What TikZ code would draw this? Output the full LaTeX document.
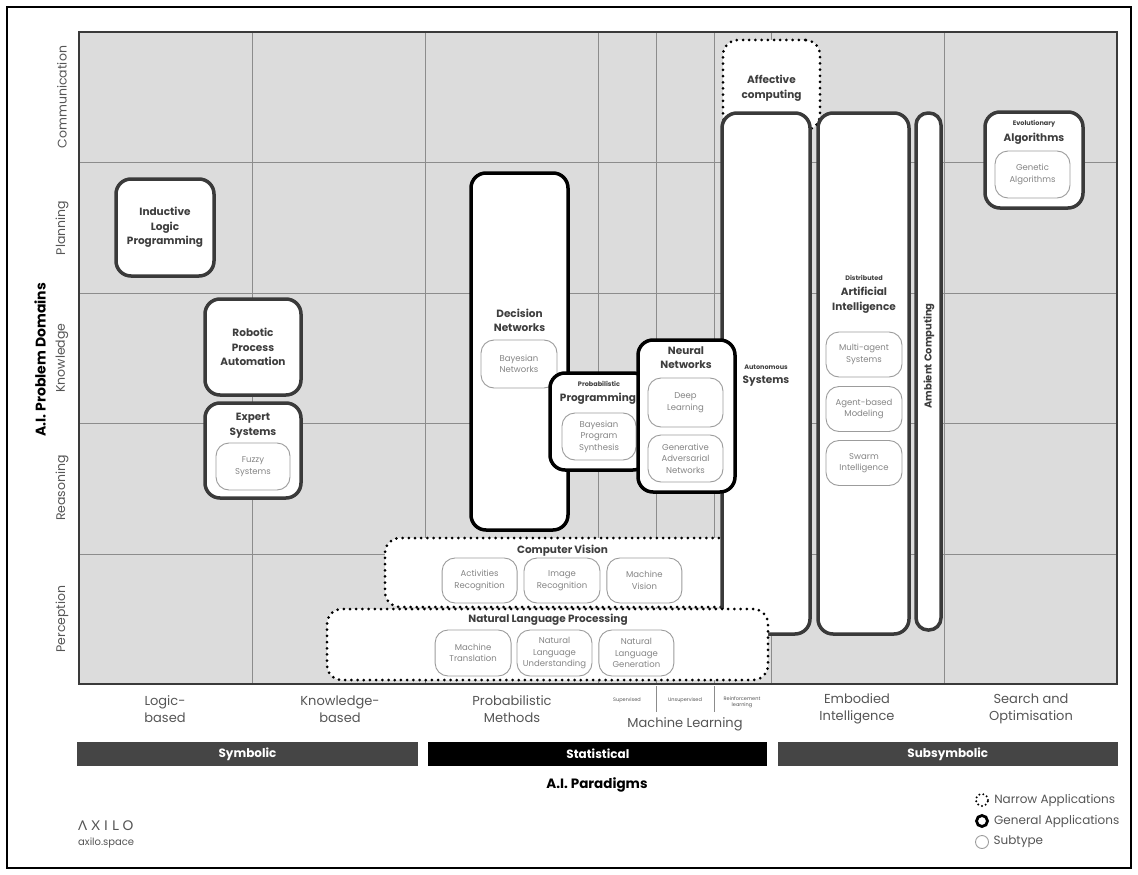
\documentclass[tikz,border=0pt]{standalone}
\usepackage{fontspec}
\setmainfont{Poppins}
\newfontfamily\logoFont[LetterSpace=30]{Lato}
\usepackage{tikz}
\usetikzlibrary{positioning}

\definecolor{gridFill}{HTML}{DCDCDC}
\definecolor{gridLine}{HTML}{8C8C8C}
\definecolor{boxLine}{HTML}{3A3A3A}
\definecolor{titleText}{HTML}{3E3E3E}
\definecolor{subText}{HTML}{858585}
\definecolor{subLine}{HTML}{9C9C9C}
\definecolor{labelText}{HTML}{555555}
\definecolor{barGray}{HTML}{454545}

\tikzstyle{aGeneral} = [rectangle, rounded corners=15pt, draw=boxLine, line width=3.5pt, fill=white]
\tikzstyle{aGeneralDark} = [aGeneral, draw=black]
\tikzstyle{aNarrow} = [rectangle, rounded corners=15pt, draw=black, line width=3pt, dash pattern=on 0pt off 6.2pt, line cap=round, fill=white]
\tikzstyle{aSubtype} = [rectangle, rounded corners=13pt, draw=subLine, line width=0.9pt, fill=white, text=subText, align=center, inner sep=1pt, font=\fontsize{8.5}{11.5}\selectfont]
\tikzstyle{aTitle} = [text=titleText, align=center, font=\bfseries\fontsize{10.5}{14.5}\selectfont]
\tikzstyle{aSmall} = [text=titleText, inner sep=0pt, font=\bfseries\fontsize{6.5}{8}\selectfont]
\tikzstyle{aParadigm} = [text=labelText, align=center, font=\fontsize{13}{17}\selectfont]
\tikzstyle{aMlSub} = [text=labelText, align=center, font=\fontsize{5}{6}\selectfont]
\tikzstyle{aDomain} = [text=labelText, rotate=90, font=\fontsize{12.5}{15}\selectfont]
\tikzstyle{aBar} = [rectangle, fill=barGray, text=white, minimum height=24pt, font=\bfseries\fontsize{12}{14}\selectfont]
\tikzstyle{aLegend} = [text=labelText, inner sep=0pt, font=\fontsize{12}{14}\selectfont]

\begin{document}
\begin{tikzpicture}[x=1pt, y=-1pt]
    \useasboundingbox (0,0) rectangle (1138,875);
    \draw[line width=2pt] (7,7) rectangle (1131,868);

    % grid
    \fill[gridFill] (79,32) rectangle (1117,684);
    \foreach \x in {252,425,598,656,714,771,944}
        \draw[gridLine, line width=0.9pt] (\x,32) -- (\x,684);
    \foreach \y in {162.5,293,423.5,554}
        \draw[gridLine, line width=0.9pt] (79,\y) -- (1117,\y);
    \draw[boxLine, line width=1.6pt] (79,32) rectangle (1117,684);

    % problem domains
    \node (domainAxis) [rotate=90, text=black, font=\bfseries\fontsize{14}{16}\selectfont] at (40,360) {A.I. Problem Domains};
    \node (rowComm) [aDomain] at (62,97) {Communication};
    \node (rowPlan) [aDomain] at (62,228) {Planning};
    \node (rowKnow) [aDomain] at (62,358) {Knowledge};
    \node (rowReason) [aDomain] at (62,488) {Reasoning};
    \node (rowPercep) [aDomain] at (62,619) {Perception};

    % symbolic
    \node (ilp) [aGeneral, aTitle, minimum width=98pt, minimum height=97pt] at (165,227.5) {Inductive\\Logic\\Programming};
    \node (rpa) [aGeneral, aTitle, minimum width=96pt, minimum height=96pt] at (253,347) {Robotic\\Process\\Automation};
    \node (expertSys) [aGeneral, minimum width=96pt, minimum height=95pt] at (253,450.5) {};
    \node (esTitle) [aTitle] at (253,425.5) {Expert\\Systems};
    \node (fuzzySys) [aSubtype, minimum width=74pt, minimum height=47pt] at (253,466.5) {Fuzzy\\Systems};

    % narrow applications behind
    \node (affective) [aNarrow, minimum width=97pt, minimum height=90pt] at (771.5,85) {};
    \node (acTitle) [aTitle] at (771.5,88) {Affective\\computing};
    \node (compVision) [aNarrow, minimum width=355pt, minimum height=69pt] at (562.5,572.5) {};
    \node (cvTitle) [aTitle] at (562.5,551) {Computer Vision};
    \node (imageRec) [aSubtype, minimum width=76pt, minimum height=45pt] at (562,580.5) {Image\\Recognition};
    \node (activityRec) [aSubtype, minimum width=75pt, minimum height=45pt, left=6pt of imageRec] {Activities\\Recognition};
    \node (machineVis) [aSubtype, minimum width=75pt, minimum height=45pt, right=6pt of imageRec] {Machine\\Vision};

    % subsymbolic
    \node (autoSys) [aGeneral, minimum width=88pt, minimum height=521pt] at (766,373.5) {};
    \node (asSmall) [aSmall] at (766,367) {Autonomous};
    \node (asTitle) [aTitle] at (766,381) {Systems};
    \node (distAI) [aGeneral, minimum width=91pt, minimum height=521pt] at (863.5,373.5) {};
    \node (daSmall) [aSmall] at (864,278) {Distributed};
    \node (daTitle) [aTitle] at (864,300) {Artificial\\Intelligence};
    \node (multiAgent) [aSubtype, minimum width=76pt, minimum height=45pt] at (864,354.5) {Multi-agent\\Systems};
    \node (agentBased) [aSubtype, minimum width=76pt, minimum height=45pt, below of=multiAgent, node distance=54.5pt] {Agent-based\\Modeling};
    \node (swarmInt) [aSubtype, minimum width=76pt, minimum height=45pt, below of=agentBased, node distance=54pt] {Swarm\\Intelligence};
    \node (ambient) [aGeneral, rounded corners=12pt, minimum width=25pt, minimum height=517pt] at (928.5,371.5) {};
    \node (ambTitle) [aTitle, rotate=90, font=\bfseries\fontsize{10}{12}\selectfont] at (929,356) {Ambient Computing};
    \node (evoAlg) [aGeneral, minimum width=98pt, minimum height=96pt] at (1034,160) {};
    \node (eaSmall) [aSmall] at (1034,124) {Evolutionary};
    \node (eaTitle) [aTitle] at (1034,138.5) {Algorithms};
    \node (geneticAlg) [aSubtype, minimum width=75pt, minimum height=47pt] at (1032.5,174.5) {Genetic\\Algorithms};

    % statistical
    \node (decisionNet) [aGeneralDark, minimum width=97pt, minimum height=357pt] at (519.5,351.5) {};
    \node (dnTitle) [aTitle] at (519.5,320.5) {Decision\\Networks};
    \node (bayesNet) [aSubtype, minimum width=76pt, minimum height=48pt] at (519,364) {Bayesian\\Networks};
    \node (probProg) [aGeneralDark, minimum width=98pt, minimum height=97pt] at (599,421.5) {};
    \node (ppSmall) [aSmall] at (599,384) {Probabilistic};
    \node (ppTitle) [aTitle] at (598,399) {Programming};
    \node (bayesProg) [aSubtype, minimum width=74pt, minimum height=47pt] at (599,436.5) {Bayesian\\Program\\Synthesis};
    \node (neuralNet) [aGeneralDark, minimum width=97pt, minimum height=152pt] at (686.5,416) {};
    \node (nnTitle) [aTitle] at (686,357.5) {Neural\\Networks};
    \node (deepLearn) [aSubtype, minimum width=75pt, minimum height=49pt] at (685.5,402.5) {Deep\\Learning};
    \node (ganNet) [aSubtype, minimum width=75pt, minimum height=47pt, below of=deepLearn, node distance=56pt] {Generative\\Adversarial\\Networks};

    % natural language processing, over the autonomous box
    \node (nlp) [aNarrow, minimum width=441pt, minimum height=71pt] at (547.5,644.5) {};
    \node (nlpTitle) [aTitle] at (548,620) {Natural Language Processing};
    \node (nluNode) [aSubtype, minimum width=75pt, minimum height=46pt] at (554.5,653) {Natural\\Language\\Understanding};
    \node (machineTrans) [aSubtype, minimum width=76pt, minimum height=46pt, left=5pt of nluNode] {Machine\\Translation};
    \node (nlgNode) [aSubtype, minimum width=75pt, minimum height=46pt, right=6pt of nluNode] {Natural\\Language\\Generation};

    % paradigms
    \node (colLogic) [aParadigm] at (165,709) {Logic-\\based};
    \node (colKnow) [aParadigm] at (340,709) {Knowledge-\\based};
    \node (colProb) [aParadigm] at (512,709) {Probabilistic\\Methods};
    \node (colSup) [aMlSub] at (627,700) {Supervised};
    \node (colUnsup) [aMlSub] at (685,700) {Unsupervised};
    \node (colReinf) [aMlSub] at (742,702) {Reinforcement\\learning};
    \draw[gridLine, line width=0.6pt] (656,686) -- (656,712);
    \draw[gridLine, line width=0.6pt] (714,686) -- (714,712);
    \node (colMl) [aParadigm] at (685,724) {Machine Learning};
    \node (colEmb) [aParadigm] at (857,709) {Embodied\\Intelligence};
    \node (colSearch) [aParadigm] at (1031,709) {Search and\\Optimisation};

    \node (symBar) [aBar, minimum width=341pt] at (247.5,754) {Symbolic};
    \node (statBar) [aBar, fill=black, minimum width=339pt, right=10pt of symBar] {Statistical};
    \node (subsymBar) [aBar, minimum width=340pt, right=10pt of statBar] {Subsymbolic};
    \node (paradigmAxis) [text=black, font=\bfseries\fontsize{13.5}{16}\selectfont] at (597,785) {A.I. Paradigms};

    % legend
    \node (legNarrow) [circle, draw=black, line width=2.2pt, dash pattern=on 0pt off 4pt, line cap=round, minimum size=12pt, inner sep=0pt] at (982,800) {};
    \node (legNarrowText) [aLegend, right=5pt of legNarrow] {Narrow Applications};
    \node (legGeneral) [circle, draw=black, line width=2.8pt, minimum size=11pt, inner sep=0pt] at (982,821) {};
    \node (legGeneralText) [aLegend, right=5pt of legGeneral] {General Applications};
    \node (legSub) [circle, draw=subLine, line width=0.9pt, minimum size=13pt, inner sep=0pt] at (982,842) {};
    \node (legSubText) [aLegend, right=4.5pt of legSub] {Subtype};

    % logo
    \node (logoMark) [anchor=west, text=labelText, inner sep=0pt, font=\logoFont\fontsize{13.5}{15}\selectfont] at (78,826) {ΛXILO};
    \node (logoUrl) [anchor=west, text=labelText, inner sep=0pt, font=\fontsize{10}{12}\selectfont] at (78,843) {axilo.space};
\end{tikzpicture}
\end{document}
